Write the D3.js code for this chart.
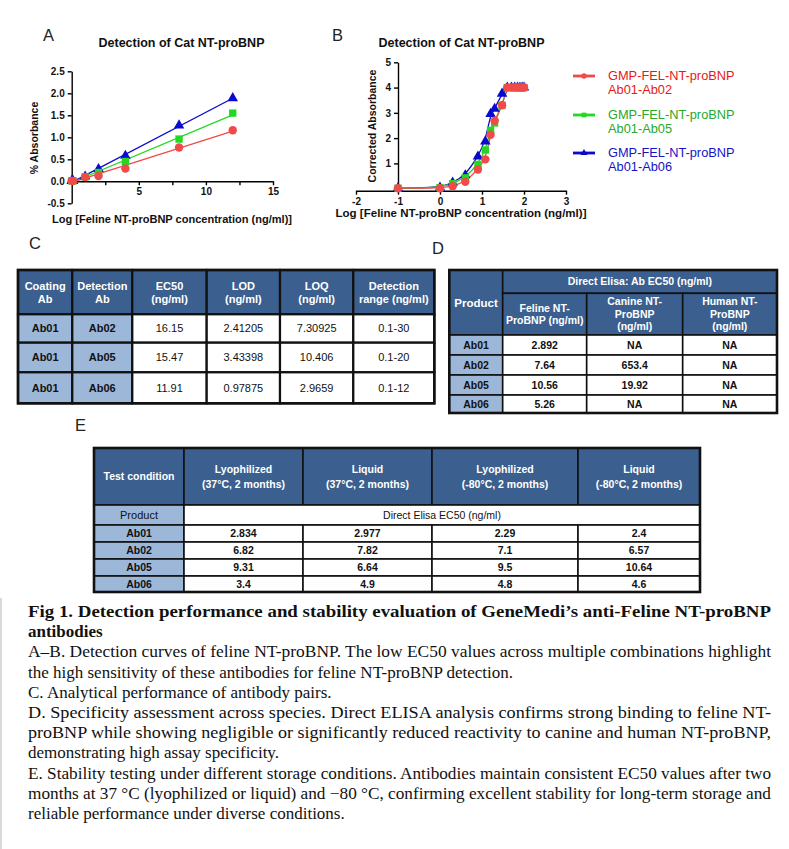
<!DOCTYPE html>
<html>
<head>
<meta charset="utf-8">
<script src="https://cdn.jsdelivr.net/npm/d3@7"></script>
<style>
  body { margin: 0; background: #fff; }
  svg { display: block; }
</style>
</head>
<body>
<div id="fig"></div>
<script>
// ---- panel A data (linear concentration, ng/ml) ----
const concA = [0, 0.1, 1, 2, 4, 8, 12];
const absA_Ab02 = [0.01, 0.01, 0.1, 0.12, 0.29, 0.77, 1.16];
const absA_Ab05 = [0.01, 0.01, 0.1, 0.2, 0.45, 0.96, 1.55];
const absA_Ab06 = [0.01, 0.01, 0.11, 0.28, 0.58, 1.27, 1.89];

// ---- panel B data (log concentration) ----
const logConcB = [-1, 0, 0.301, 0.602, 0.903, 1.079, 1.204, 1.301, 1.477, 1.602, 1.699, 1.778, 1.845, 1.903, 1.954, 2.0];
const absB_Ab02 = [0.02, 0.02, 0.1, 0.27, 0.76, 1.16, 2.13, 2.69, 3.3, 4, 4, 4, 4, 4, 4, 4];
const absB_Ab05 = [0.02, 0.04, 0.2, 0.43, 0.96, 1.53, 2.31, 2.6, 3.3, 4, 4, 4, 4, 4, 4, 4];
const absB_Ab06 = [0.02, 0.04, 0.24, 0.53, 1.27, 1.87, 2.96, 3.16, 3.76, 4, 4, 4, 4, 4, 4, 4];

const pairNames = ["Ab01-Ab02", "Ab01-Ab05", "Ab01-Ab06"];

// ---- table C ----
const tableCHeader = [["Coating", "Ab"], ["Detection", "Ab"], ["EC50", "(ng/ml)"], ["LOD", "(ng/ml)"], ["LOQ", "(ng/ml)"], ["Detection", "range (ng/ml)"]];
const tableCRows = [
  ["Ab01", "Ab02", "16.15", "2.41205", "7.30925", "0.1-30"],
  ["Ab01", "Ab05", "15.47", "3.43398", "10.406", "0.1-20"],
  ["Ab01", "Ab06", "11.91", "0.97875", "2.9659", "0.1-12"]
];

// ---- table D ----
const productsD = ["Ab01", "Ab02", "Ab05", "Ab06"];
const felineEC50 = ["2.892", "7.64", "10.56", "5.26"];
const canineEC50 = ["NA", "653.4", "19.92", "NA"];
const humanEC50 = ["NA", "NA", "NA", "NA"];
const speciesHeader = [["Feline NT-", "ProBNP (ng/ml)"], ["Canine NT-", "ProBNP", "(ng/ml)"], ["Human NT-", "ProBNP", "(ng/ml)"]];

// ---- table E ----
const conditionsE = [["Lyophilized", "(37°C, 2 months)"], ["Liquid", "(37°C, 2 months)"], ["Lyophilized", "(-80°C, 2 months)"], ["Liquid", "(-80°C, 2 months)"]];
const productsE = ["Ab01", "Ab02", "Ab05", "Ab06"];
const lyo37 = ["2.834", "6.82", "9.31", "3.4"];
const liq37 = ["2.977", "7.82", "6.64", "4.9"];
const lyo80 = ["2.29", "7.1", "9.5", "4.8"];
const liq80 = ["2.4", "6.57", "10.64", "4.6"];

const captionLines = [
  ["Fig 1. Detection performance and stability evaluation of GeneMedi’s anti-Feline NT-proBNP", true, true],
  ["antibodies", true, false],
  ["A–B. Detection curves of feline NT-proBNP. The low EC50 values across multiple combinations highlight", false, true],
  ["the high sensitivity of these antibodies for feline NT-proBNP detection.", false, false],
  ["C. Analytical performance of antibody pairs.", false, false],
  ["D. Specificity assessment across species. Direct ELISA analysis confirms strong binding to feline NT-", false, true],
  ["proBNP while showing negligible or significantly reduced reactivity to canine and human NT-proBNP,", false, true],
  ["demonstrating high assay specificity.", false, false],
  ["E. Stability testing under different storage conditions. Antibodies maintain consistent EC50 values after two", false, true],
  ["months at 37 °C (lyophilized or liquid) and −80 °C, confirming excellent stability for long-term storage and", false, true],
  ["reliable performance under diverse conditions.", false, false]
];

const styles = [
  { color: "#f04a4a", text: "#e81818", symbol: d3.symbolCircle, size: 56 },
  { color: "#22d822", text: "#28a828", symbol: d3.symbolSquare, size: 54 },
  { color: "#0a0acc", text: "#1414c4", symbol: d3.symbolTriangle, size: 48 }
];

const FONT = "Arial, 'Liberation Sans', sans-serif";
const svg = d3.select("#fig").append("svg")
  .attr("width", 789).attr("height", 849)
  .style("font-family", FONT);

function styleAxis(g) {
  g.select(".domain").attr("stroke", "#000").attr("stroke-width", 1.4);
  g.selectAll(".tick line").attr("stroke", "#000").attr("stroke-width", 1.4);
  g.selectAll(".tick text").attr("fill", "#111").attr("font-weight", "bold").attr("font-size", 10).attr("font-family", FONT);
}

function panelLabel(txt, x, y) {
  svg.append("text").attr("x", x).attr("y", y).attr("font-size", 16.5).attr("fill", "#222").text(txt);
}

// ================= Panel A =================
const seriesA = [absA_Ab02, absA_Ab05, absA_Ab06].map((v, i) => ({
  name: pairNames[i], st: styles[i], pts: concA.map((c, j) => ({ x: c, y: v[j] }))
}));
const ax = d3.scaleLinear().domain([0, 15]).range([71.7, 273]);
const ay = d3.scaleLinear().domain([-0.5, 2.5]).range([203.3, 71.3]);
const gA = svg.append("g");

panelLabel("A", 43, 41);
gA.append("text").attr("x", 181.5).attr("y", 47).attr("text-anchor", "middle")
  .attr("font-size", 12.5).attr("font-weight", "bold").attr("fill", "#111").text("Detection of Cat NT-proBNP");

gA.append("g").attr("transform", `translate(0,${ay(0)})`)
  .call(d3.axisBottom(ax).tickValues([2.5, 5, 7.5, 10, 12.5, 15]).tickSize(4).tickSizeOuter(0)
    .tickFormat(d => d % 5 === 0 ? d : ""))
  .call(styleAxis);
gA.append("g").attr("transform", `translate(${ax(0)},0)`)
  .call(d3.axisLeft(ay).tickValues(d3.range(-0.5, 2.51, 0.5)).tickSize(4).tickSizeOuter(0)
    .tickFormat(d => d.toFixed(1)))
  .call(styleAxis);

gA.append("text").attr("transform", "translate(38,138) rotate(-90)").attr("text-anchor", "middle")
  .attr("font-size", 10.5).attr("font-weight", "bold").attr("fill", "#111").text("% Absorbance");
gA.append("text").attr("x", 172).attr("y", 223).attr("text-anchor", "middle")
  .attr("font-size", 10.5).attr("font-weight", "bold").attr("fill", "#111")
  .attr("textLength", 240).attr("lengthAdjust", "spacingAndGlyphs")
  .text("Log [Feline NT-proBNP concentration (ng/ml)]");

// linear fits
seriesA.slice().reverse().forEach(s => {
  const mx = d3.mean(s.pts, d => d.x), my = d3.mean(s.pts, d => d.y);
  const slope = d3.sum(s.pts, d => (d.x - mx) * (d.y - my)) / d3.sum(s.pts, d => (d.x - mx) ** 2);
  const icpt = my - slope * mx;
  const [x0, x1] = d3.extent(s.pts, d => d.x);
  gA.append("line").attr("x1", ax(x0)).attr("y1", ay(icpt + slope * x0))
    .attr("x2", ax(x1)).attr("y2", ay(icpt + slope * x1))
    .attr("stroke", s.st.color).attr("stroke-width", 1.3);
});
seriesA.slice().reverse().forEach(s => {
  gA.selectAll(null).data(s.pts).join("path")
    .attr("transform", d => `translate(${ax(d.x)},${ay(d.y)})`)
    .attr("d", d3.symbol(s.st.symbol, s.st.size))
    .attr("fill", s.st.color);
});

// ================= Panel B =================
const seriesB = [absB_Ab02, absB_Ab05, absB_Ab06].map((v, i) => ({
  name: pairNames[i], st: styles[i], pts: logConcB.map((c, j) => ({ x: c, y: v[j] }))
}));
const bx = d3.scaleLinear().domain([-2, 3]).range([356, 566]);
const by = d3.scaleLinear().domain([-0.08, 5]).range([190.7, 62.3]);
const gB = svg.append("g");

panelLabel("B", 332, 41);
gB.append("text").attr("x", 461.5).attr("y", 47).attr("text-anchor", "middle")
  .attr("font-size", 12.5).attr("font-weight", "bold").attr("fill", "#111").text("Detection of Cat NT-proBNP");

gB.append("g").attr("transform", `translate(0,${by(-0.08)})`)
  .call(d3.axisBottom(bx).ticks(5).tickSize(4).tickSizeOuter(0).tickFormat(d => String(d)))
  .call(styleAxis);
gB.append("g").attr("transform", `translate(${bx(-1)},0)`)
  .call(d3.axisLeft(by).tickValues([1, 2, 3, 4, 5]).tickSize(4).tickSizeOuter(0).tickFormat(d => String(d)))
  .call(styleAxis);

gB.append("text").attr("transform", "translate(376,126) rotate(-90)").attr("text-anchor", "middle")
  .attr("font-size", 10.5).attr("font-weight", "bold").attr("fill", "#111").text("Corrected Absorbance");
gB.append("text").attr("x", 461).attr("y", 217).attr("text-anchor", "middle")
  .attr("font-size", 10.5).attr("font-weight", "bold").attr("fill", "#111")
  .attr("textLength", 251).attr("lengthAdjust", "spacingAndGlyphs")
  .text("Log [Feline NT-proBNP concentration (ng/ml)]");

const curveB = d3.line().x(d => bx(d.x)).y(d => by(d.y)).curve(d3.curveBasis);
seriesB.slice().reverse().forEach(s => {
  gB.append("path").attr("d", curveB(s.pts)).attr("fill", "none")
    .attr("stroke", s.st.color).attr("stroke-width", 1.3);
});
seriesB.slice().reverse().forEach(s => {
  gB.selectAll(null).data(s.pts).join("path")
    .attr("transform", d => `translate(${bx(d.x)},${by(d.y)})`)
    .attr("d", d3.symbol(s.st.symbol, s.st.size))
    .attr("fill", s.st.color);
});

// legend
const legY = [76, 115, 153];
seriesB.forEach((s, i) => {
  const g = svg.append("g").attr("transform", `translate(0,${legY[i]})`);
  g.append("line").attr("x1", 573).attr("x2", 595).attr("stroke", s.st.color).attr("stroke-width", 2.8);
  g.append("path").attr("transform", "translate(584,0)").attr("d", d3.symbol(s.st.symbol, 22)).attr("fill", s.st.color);
  g.append("text").attr("x", 608).attr("y", 4).attr("font-size", 12.8).attr("fill", s.st.text).text("GMP-FEL-NT-proBNP");
  g.append("text").attr("x", 608).attr("y", 18).attr("font-size", 12.8).attr("fill", s.st.text).text(s.name);
});

// ================= Tables =================
const HEAD = "#3b5f8e", LIGHT = "#9db7d9";
function cell(g, x0, x1, y0, y1, fill, lines, o = {}) {
  g.append("rect").attr("x", x0).attr("y", y0).attr("width", x1 - x0).attr("height", y1 - y0)
    .attr("fill", fill).attr("stroke", "#111").attr("stroke-width", o.sw || 1.6);
  const fs = o.fs || 11, lh = o.lh || 13;
  const cy = (y0 + y1) / 2 - (lines.length - 1) * lh / 2 + fs * 0.36;
  g.selectAll(null).data(lines).join("text")
    .attr("x", (x0 + x1) / 2).attr("y", (d, i) => cy + i * lh)
    .attr("text-anchor", "middle").attr("font-size", fs)
    .attr("font-weight", o.bold ? "bold" : "normal")
    .attr("fill", o.color || "#111").text(d => d);
}
function outer(g, x0, x1, y0, y1) {
  g.append("rect").attr("x", x0).attr("y", y0).attr("width", x1 - x0).attr("height", y1 - y0)
    .attr("fill", "none").attr("stroke", "#111").attr("stroke-width", 2.6);
}

// table C
panelLabel("C", 29, 249);
const gC = svg.append("g");
const cX = [18, 72.3, 132.3, 206.7, 280, 353.3, 434.3];
const cY = [270, 314.3, 342.7, 372.3, 403.3];
tableCHeader.forEach((h, j) => cell(gC, cX[j], cX[j + 1], cY[0], cY[1], HEAD, h, { bold: true, color: "#fff", sw: 2.2 }));
tableCRows.forEach((r, i) => r.forEach((v, j) =>
  cell(gC, cX[j], cX[j + 1], cY[i + 1], cY[i + 2], j < 2 ? LIGHT : "#fff", [v], { bold: j < 2, sw: 2.2 })));
outer(gC, cX[0], cX[6], cY[0], cY[4]);

// table D
panelLabel("D", 432, 254);
const gD = svg.append("g");
const dX = [449.3, 502.7, 586.7, 682.7, 777];
const dY = [270, 293.3, 335, 355, 375, 395, 413];
cell(gD, dX[0], dX[1], dY[0], dY[2], HEAD, ["Product"], { bold: true, color: "#fff", fs: 11.5 });
cell(gD, dX[1], dX[4], dY[0], dY[1], HEAD, ["Direct Elisa: Ab EC50 (ng/ml)"], { bold: true, color: "#fff", fs: 10.5 });
speciesHeader.forEach((h, j) => cell(gD, dX[j + 1], dX[j + 2], dY[1], dY[2], HEAD, h, { bold: true, color: "#fff", fs: 10.5, lh: 12.5 }));
productsD.forEach((p, i) => {
  const vals = [p, felineEC50[i], canineEC50[i], humanEC50[i]];
  vals.forEach((v, j) => cell(gD, dX[j], dX[j + 1], dY[i + 2], dY[i + 3], j === 0 ? LIGHT : "#fff", [v], { bold: true, fs: 10.5 }));
});
outer(gD, dX[0], dX[4], dY[0], dY[6]);

// table E
panelLabel("E", 75, 431);
const gE = svg.append("g");
const eX = [94, 184, 303, 432, 578, 700];
const eY = [448, 505, 525, 542, 559, 576, 592];
cell(gE, eX[0], eX[1], eY[0], eY[1], HEAD, ["Test condition"], { bold: true, color: "#fff", fs: 10.5 });
conditionsE.forEach((h, j) => cell(gE, eX[j + 1], eX[j + 2], eY[0], eY[1], HEAD, h, { bold: true, color: "#fff", fs: 10.5, lh: 15 }));
cell(gE, eX[0], eX[1], eY[1], eY[2], LIGHT, ["Product"], { fs: 11 });
cell(gE, eX[1], eX[5], eY[1], eY[2], "#fff", ["Direct Elisa EC50 (ng/ml)"], { fs: 10.5 });
productsE.forEach((p, i) => {
  const vals = [p, lyo37[i], liq37[i], lyo80[i], liq80[i]];
  vals.forEach((v, j) => cell(gE, eX[j], eX[j + 1], eY[i + 2], eY[i + 3], j === 0 ? LIGHT : "#fff", [v], { bold: true, fs: 10.5 }));
});
outer(gE, eX[0], eX[5], eY[0], eY[6]);

// ================= Caption =================
svg.append("line").attr("x1", 1).attr("x2", 1).attr("y1", 598).attr("y2", 849).attr("stroke", "#ccc").attr("stroke-width", 1.5);
const gCap = svg.append("g").attr("font-family", "'Times New Roman', 'Liberation Serif', serif");
captionLines.forEach(([t, bold, justify], i) => {
  const tx = gCap.append("text").attr("x", 28).attr("y", 617 + i * 20.2)
    .attr("font-size", 17).attr("fill", "#111")
    .attr("font-weight", bold ? "bold" : "normal").text(t);
  if (justify) tx.attr("textLength", 743).attr("lengthAdjust", "spacingAndGlyphs");
});
</script>
</body>
</html>
